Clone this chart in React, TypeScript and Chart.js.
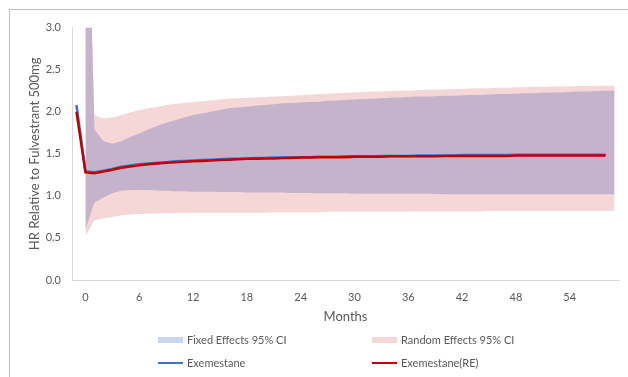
import React, { useEffect, useRef } from "react";
import { Chart, registerables } from "chart.js";

Chart.register(...registerables);

// Months on the category axis (-1 .. 59)
const MONTHS: number[] = [
  -1, 0, 1, 2, 3, 4, 5, 6, 7, 8, 9, 10, 11, 12, 13, 14, 15, 16, 17, 18, 19, 20,
  21, 22, 23, 24, 25, 26, 27, 28, 29, 30, 31, 32, 33, 34, 35, 36, 37, 38, 39, 40,
  41, 42, 43, 44, 45, 46, 47, 48, 49, 50, 51, 52, 53, 54, 55, 56, 57, 58, 59,
];

// Hazard ratio lines (months -1 .. 58)
const EXEMESTANE: number[] = [
  2.08, 1.29, 1.28, 1.3, 1.32, 1.345, 1.36, 1.375, 1.385, 1.395, 1.4, 1.41, 1.415,
  1.42, 1.425, 1.43, 1.435, 1.44, 1.44, 1.445, 1.45, 1.45, 1.455, 1.455, 1.46, 1.46,
  1.46, 1.465, 1.465, 1.465, 1.47, 1.47, 1.47, 1.47, 1.475, 1.475, 1.475, 1.475,
  1.48, 1.48, 1.48, 1.48, 1.48, 1.485, 1.485, 1.485, 1.485, 1.485, 1.485, 1.49,
  1.49, 1.49, 1.49, 1.49, 1.49, 1.49, 1.49, 1.49, 1.49, 1.49,
];
const EXEMESTANE_RE: number[] = [
  2.0, 1.28, 1.27, 1.29, 1.31, 1.335, 1.35, 1.365, 1.375, 1.385, 1.395, 1.4, 1.405,
  1.41, 1.415, 1.42, 1.425, 1.43, 1.435, 1.44, 1.44, 1.445, 1.445, 1.45, 1.45, 1.455,
  1.455, 1.46, 1.46, 1.46, 1.46, 1.465, 1.465, 1.465, 1.465, 1.47, 1.47, 1.47, 1.47,
  1.47, 1.47, 1.475, 1.475, 1.475, 1.475, 1.475, 1.475, 1.475, 1.475, 1.48, 1.48,
  1.48, 1.48, 1.48, 1.48, 1.48, 1.48, 1.48, 1.48, 1.48,
];

// Confidence bands (months 0 .. 59)
const FIXED_UPPER: number[] = [
  6.0, 1.79, 1.65, 1.62, 1.65, 1.7, 1.74, 1.79, 1.83, 1.87, 1.9, 1.93, 1.96, 1.98,
  2.0, 2.02, 2.04, 2.05, 2.06, 2.07, 2.08, 2.09, 2.1, 2.105, 2.11, 2.115, 2.12, 2.13,
  2.135, 2.14, 2.145, 2.15, 2.155, 2.16, 2.165, 2.17, 2.175, 2.18, 2.18, 2.185, 2.19,
  2.19, 2.195, 2.2, 2.2, 2.205, 2.21, 2.21, 2.215, 2.22, 2.22, 2.225, 2.23, 2.23,
  2.235, 2.24, 2.24, 2.245, 2.25, 2.25,
];
const FIXED_LOWER: number[] = [
  0.6, 0.92, 0.98, 1.03, 1.06, 1.07, 1.07, 1.07, 1.065, 1.06, 1.055, 1.055, 1.05,
  1.05, 1.05, 1.045, 1.045, 1.045, 1.04, 1.04, 1.04, 1.04, 1.04, 1.035, 1.035, 1.035,
  1.03, 1.03, 1.03, 1.03, 1.025, 1.025, 1.025, 1.025, 1.025, 1.025, 1.025, 1.025,
  1.025, 1.025, 1.02, 1.02, 1.02, 1.02, 1.02, 1.02, 1.02, 1.02, 1.02, 1.02, 1.02,
  1.02, 1.02, 1.02, 1.02, 1.02, 1.02, 1.02, 1.02, 1.02,
];
const RANDOM_UPPER: number[] = [
  5.5, 1.96, 1.92, 1.93, 1.96, 1.99, 2.02, 2.04, 2.06, 2.08, 2.095, 2.105, 2.115,
  2.125, 2.135, 2.145, 2.155, 2.16, 2.165, 2.17, 2.175, 2.18, 2.185, 2.19, 2.195, 2.2,
  2.21, 2.215, 2.22, 2.225, 2.23, 2.235, 2.24, 2.24, 2.245, 2.25, 2.25, 2.255, 2.26,
  2.26, 2.265, 2.27, 2.27, 2.275, 2.28, 2.28, 2.285, 2.285, 2.29, 2.29, 2.295, 2.295,
  2.3, 2.3, 2.3, 2.305, 2.305, 2.31, 2.31, 2.31,
];
const RANDOM_LOWER: number[] = [
  0.52, 0.71, 0.73, 0.75, 0.77, 0.78, 0.785, 0.79, 0.79, 0.795, 0.795, 0.8, 0.8, 0.8,
  0.8, 0.8, 0.8, 0.8, 0.8, 0.8, 0.8, 0.805, 0.805, 0.805, 0.805, 0.805, 0.805, 0.81,
  0.81, 0.81, 0.81, 0.81, 0.81, 0.81, 0.81, 0.81, 0.815, 0.815, 0.815, 0.815, 0.815,
  0.815, 0.815, 0.815, 0.815, 0.82, 0.82, 0.82, 0.82, 0.82, 0.82, 0.82, 0.82, 0.82,
  0.82, 0.82, 0.82, 0.82, 0.82, 0.82,
];

const Y_TICKS: number[] = [0, 0.5, 1.0, 1.5, 2.0, 2.5, 3.0];
const X_TICK_STEP = 6;

const LEGEND_LABELS = [
  "Fixed Effects 95% CI",
  "Random Effects 95% CI",
  "Exemestane",
  "Exemestane(RE)",
];

const FONT = "Lato, 'Open Sans', sans-serif";
const TEXT_COLOR = "#595959";
const AXIS_COLOR = "#d9d9d9";
const PINK = "#f5d7d7";
const PURPLE = "#c5b3cb";
const LEGEND_BLUE = "#c8d6f0";
const BLUE = "#4472c4";
const RED = "#c00000";

const bandData = (arr: number[]) => [null, ...arr];
const lineData = (arr: number[]) => [...arr, null];

const legendPlugin = {
  id: "gridLegend",
  afterDraw(chart: any) {
    const ctx = chart.ctx;
    ctx.save();
    ctx.font = `11px ${FONT}`;
    ctx.fillStyle = TEXT_COLOR;
    ctx.textBaseline = "middle";
    const cols = [148, 362];
    const rows = [330, 353];
    const boxW = 25;
    const items = [
      { kind: "box", color: LEGEND_BLUE },
      { kind: "box", color: PINK },
      { kind: "line", color: BLUE },
      { kind: "line", color: RED },
    ];
    items.forEach((it, i) => {
      const x = cols[i % 2];
      const y = rows[Math.floor(i / 2)];
      if (it.kind === "box") {
        ctx.fillStyle = it.color;
        ctx.fillRect(x, y - 3, boxW, 6);
      } else {
        ctx.strokeStyle = it.color;
        ctx.lineWidth = 2;
        ctx.beginPath();
        ctx.moveTo(x, y);
        ctx.lineTo(x + boxW, y);
        ctx.stroke();
      }
      ctx.fillStyle = TEXT_COLOR;
      ctx.textAlign = "left";
      ctx.fillText(LEGEND_LABELS[i], x + boxW + 4, y);
    });
    ctx.restore();
  },
};

export default function App() {
  const ref = useRef<HTMLCanvasElement | null>(null);

  useEffect(() => {
    if (!ref.current) return;
    const chart = new Chart(ref.current, {
      type: "line",
      data: {
        labels: MONTHS.map(String),
        datasets: [
          {
            label: LEGEND_LABELS[3],
            data: lineData(EXEMESTANE_RE),
            borderColor: RED,
            borderWidth: 2.5,
            pointRadius: 0,
            fill: false,
            order: 0,
          },
          {
            label: LEGEND_LABELS[2],
            data: lineData(EXEMESTANE),
            borderColor: BLUE,
            borderWidth: 2.5,
            pointRadius: 0,
            fill: false,
            order: 1,
          },
          {
            label: LEGEND_LABELS[0],
            data: bandData(FIXED_UPPER),
            borderWidth: 0,
            borderColor: "rgba(0,0,0,0)",
            backgroundColor: PURPLE,
            pointRadius: 0,
            fill: 3,
            order: 2,
          },
          {
            label: "fixed lower",
            data: bandData(FIXED_LOWER),
            borderWidth: 0,
            borderColor: "rgba(0,0,0,0)",
            pointRadius: 0,
            fill: false,
            order: 3,
          },
          {
            label: LEGEND_LABELS[1],
            data: bandData(RANDOM_UPPER),
            borderWidth: 0,
            borderColor: "rgba(0,0,0,0)",
            backgroundColor: PINK,
            pointRadius: 0,
            fill: 5,
            order: 4,
          },
          {
            label: "random lower",
            data: bandData(RANDOM_LOWER),
            borderWidth: 0,
            borderColor: "rgba(0,0,0,0)",
            pointRadius: 0,
            fill: false,
            order: 5,
          },
        ],
      },
      options: {
        responsive: false,
        animation: false,
        devicePixelRatio: 1,
        layout: { padding: { left: 13, right: 9, top: 13, bottom: 48 } },
        plugins: {
          legend: { display: false },
          tooltip: { enabled: false },
        },
        elements: { line: { tension: 0 } },
        scales: {
          x: {
            type: "category",
            offset: true,
            grid: { display: false, drawTicks: false },
            border: { display: true, color: AXIS_COLOR, width: 1 },
            ticks: {
              autoSkip: false,
              maxRotation: 0,
              minRotation: 0,
              padding: 11,
              color: TEXT_COLOR,
              font: { family: FONT, size: 11 },
              callback: (_v: any, i: number) => {
                const m = MONTHS[i];
                return m >= 0 && m % X_TICK_STEP === 0 && m <= 54 ? String(m) : "";
              },
            },
            title: {
              display: true,
              text: "Months",
              color: TEXT_COLOR,
              font: { family: FONT, size: 13 },
            },
            afterFit: (s: any) => {
              s.height = 49;
            },
          },
          y: {
            min: 0,
            max: 3,
            grid: { display: false, drawTicks: false },
            border: { display: true, color: AXIS_COLOR, width: 1 },
            afterBuildTicks: (s: any) => {
              s.ticks = Y_TICKS.map((v) => ({ value: v }));
            },
            ticks: {
              padding: 11,
              color: TEXT_COLOR,
              font: { family: FONT, size: 11 },
              callback: (v: any) => Number(v).toFixed(1),
            },
            title: {
              display: true,
              text: "HR Relative to Fulvestrant 500mg",
              color: TEXT_COLOR,
              font: { family: FONT, size: 13 },
            },
            afterFit: (s: any) => {
              s.width = 49;
            },
          },
        },
      },
      plugins: [legendPlugin],
    } as any);
    return () => chart.destroy();
  }, []);

  return (
    <div
      style={{
        position: "absolute",
        left: 9,
        top: 9,
        width: 619,
        height: 368,
        boxSizing: "border-box",
        borderTop: `1px solid #bfbfbf`,
        borderLeft: `1px solid #bfbfbf`,
        background: "#fff",
      }}
    >
      <canvas ref={ref} width={618} height={367} style={{ display: "block" }} />
    </div>
  );
}
